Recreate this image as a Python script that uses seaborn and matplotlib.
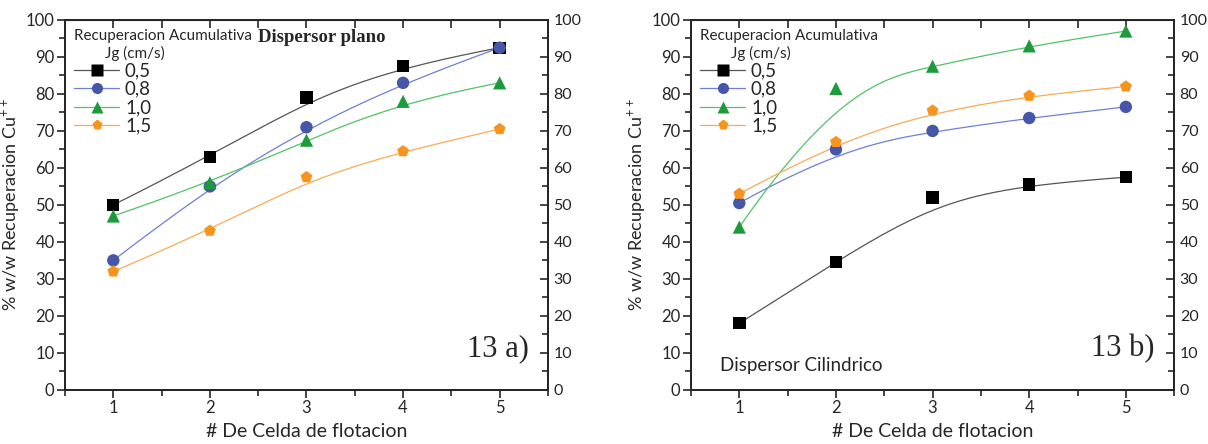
import numpy as np
import matplotlib
matplotlib.use("Agg")
import matplotlib.pyplot as plt
from matplotlib.lines import Line2D
from matplotlib.ticker import MultipleLocator
import seaborn as sns

celdas = [1, 2, 3, 4, 5]
jg_labels = ["0,5", "0,8", "1,0", "1,5"]

# 13 a) dispersor plano
plano_05 = [50, 63, 79, 87.5, 92.5]
plano_08 = [35, 55, 71, 83, 92.5]
plano_10 = [47, 56, 67.5, 78, 83]
plano_15 = [32, 43, 57.5, 64.5, 70.5]

# 13 b) dispersor cilindrico
cil_05 = [18, 34.5, 52, 55.5, 57.5]
cil_08 = [50.5, 65, 70, 73.5, 76.5]
cil_10 = [44, 81.5, 87.5, 93, 97]
cil_15 = [53, 67, 75.5, 79.5, 82]

marker_colors = ["#000000", "#4656a8", "#1d9b3c", "#f7941d"]
line_colors = ["#555555", "#6f7fd6", "#52c266", "#f9aa55"]
markers = ["s", "o", "^", "p"]

SANS = ["Lato", "DejaVu Sans"]
SERIF = ["Liberation Serif", "DejaVu Serif"]


def bspline(xs, ys, n=300, k=3):
    # clamped cubic B-spline, data points used as control points
    P = np.column_stack([xs, ys]).astype(float)
    m = len(P)
    knots = np.concatenate([np.zeros(k), np.linspace(0, 1, m - k + 1), np.ones(k)])
    t = np.linspace(0, 1 - 1e-9, n)
    N = np.zeros((n, len(knots) - 1))
    for i in range(len(knots) - 1):
        N[:, i] = (knots[i] <= t) & (t < knots[i + 1])
    for d in range(1, k + 1):
        newN = np.zeros((n, len(knots) - 1 - d))
        for i in range(len(knots) - 1 - d):
            a = knots[i + d] - knots[i]
            b = knots[i + d + 1] - knots[i + 1]
            term = np.zeros(n)
            if a > 0:
                term += (t - knots[i]) / a * N[:, i]
            if b > 0:
                term += (knots[i + d + 1] - t) / b * N[:, i + 1]
            newN[:, i] = term
        N = newN
    C = N @ P
    return C[:, 0], C[:, 1]


def draw_panel(ax, series, tag):
    for vals, mc, lc, mk in zip(series, marker_colors, line_colors, markers):
        cx, cy = bspline(celdas, vals)
        sns.lineplot(x=cx, y=cy, ax=ax, color=lc, lw=0.9, sort=False,
                     estimator=None, legend=False)
        sns.scatterplot(x=celdas, y=vals, ax=ax, color=mc, marker=mk,
                        s=80 if mk != "^" else 90, edgecolor="none",
                        legend=False, zorder=3)

    ax.set_xlim(0.5, 5.5)
    ax.set_ylim(0, 100)
    ax.xaxis.set_major_locator(MultipleLocator(1))
    ax.xaxis.set_minor_locator(MultipleLocator(0.5))
    ax.yaxis.set_major_locator(MultipleLocator(10))
    ax.yaxis.set_minor_locator(MultipleLocator(5))
    ax.tick_params(which="major", direction="out", length=6, width=1.2,
                   labelsize=12, pad=1.5)
    ax.tick_params(which="minor", direction="out", length=4, width=1.2)
    for sp in ax.spines.values():
        sp.set_visible(True)
        sp.set_linewidth(1.4)
    for lab in ax.get_xticklabels() + ax.get_yticklabels():
        lab.set_family(SANS)

    # right axis with labels, ticks inward
    ax2 = ax.twinx()
    ax2.set_ylim(0, 100)
    ax2.yaxis.set_major_locator(MultipleLocator(10))
    ax2.yaxis.set_minor_locator(MultipleLocator(5))
    ax2.tick_params(which="major", direction="in", length=6, width=1.2,
                    labelsize=11.5, pad=4)
    ax2.tick_params(which="minor", direction="in", length=4, width=1.2)
    for lab in ax2.get_yticklabels():
        lab.set_family(SANS)
    for sp in ax2.spines.values():
        sp.set_linewidth(1.4)

    # top ticks inward, no labels
    top = ax.secondary_xaxis("top")
    top.xaxis.set_major_locator(MultipleLocator(1))
    top.xaxis.set_minor_locator(MultipleLocator(0.5))
    top.tick_params(which="major", direction="in", length=6, width=1.2,
                    labeltop=False)
    top.tick_params(which="minor", direction="in", length=6, width=1.2)

    ax.set_xlabel("# De Celda de flotacion", fontsize=14, family=SANS, labelpad=5)
    ax.set_ylabel("% w/w Recuperacion Cu$^{++}$", fontsize=13, family=SANS,
                  labelpad=3)

    handles = [Line2D([0], [0], color=lc, lw=0.9, marker=mk, markerfacecolor=mc,
                      markeredgecolor="none", markersize=8)
               for mc, lc, mk in zip(marker_colors, line_colors, markers)]
    leg = ax.legend(handles, jg_labels, loc="upper left",
                    title="Recuperacion Acumulativa\n        Jg (cm/s)",
                    frameon=False, handlelength=2.4, handletextpad=0.3,
                    labelspacing=0.08, borderaxespad=0.2, borderpad=0.3,
                    bbox_to_anchor=(0.0, 1.0),
                    prop={"family": SANS, "size": 13.5},
                    title_fontproperties={"family": SANS, "size": 11})
    leg._legend_box.align = "left"
    leg._legend_box.sep = 1

    ax.text(0.96, 0.09, tag, transform=ax.transAxes, ha="right", va="baseline",
            fontsize=22, family=SERIF)
    return ax


sns.set_style("ticks")
plt.rcParams["font.family"] = SANS
plt.rcParams["mathtext.fontset"] = "custom"
plt.rcParams["mathtext.rm"] = "Lato"

fig = plt.figure(figsize=(12.08, 4.44), dpi=100)
ax_a = fig.add_axes([0.0538, 0.122, 0.3998, 0.833])
ax_b = fig.add_axes([0.572, 0.122, 0.400, 0.833])

draw_panel(ax_a, [plano_05, plano_08, plano_10, plano_15], "13 a)")
draw_panel(ax_b, [cil_05, cil_08, cil_10, cil_15], "13 b)")

ax_a.text(0.40, 0.952, "Dispersor plano", transform=ax_a.transAxes,
          fontsize=13.5, fontweight="bold", family=SERIF, va="center")
ax_b.text(0.06, 0.065, "Dispersor Cilindrico", transform=ax_b.transAxes,
          fontsize=13.5, family=SANS, va="center")

fig.savefig("out.png", dpi=100)
